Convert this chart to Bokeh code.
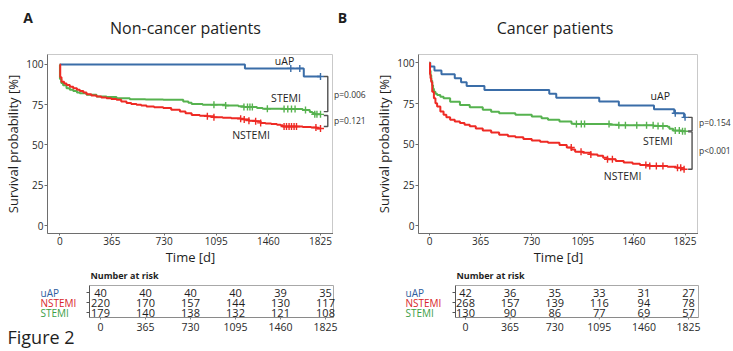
import numpy as np
from bokeh.plotting import figure
from bokeh.layouts import row, column
from bokeh.models import Range1d, FixedTicker, Label
from bokeh.core.properties import value
from bokeh.embed import file_html
from bokeh.resources import INLINE

FONT = "Open Sans"

# ---------------- data ----------------
risk_days = [0, 365, 730, 1095, 1460, 1825]
groups = ["uAP", "NSTEMI", "STEMI"]

# Panel A: non-cancer patients
a_uap_t = [0, 1296, 1708, 1825]
a_uap_s = [100, 97.5, 92.5, 92.5]
a_uap_c = [1617, 1680, 1825]

a_nst_t = [0, 3, 12, 30, 47, 70, 94, 120, 140, 165, 187, 220, 257, 290, 327, 360, 397, 430, 467, 500,
           537, 570, 607, 660, 724, 780, 841, 880, 923, 980, 1033, 1079, 1140, 1200, 1266, 1291, 1324,
           1371, 1406, 1440, 1480, 1520, 1546, 1560, 1700, 1760, 1800, 1825]
a_nst_s = [100, 92, 89.3, 88.2, 87.2, 86.2, 85.2, 84.2, 83.5, 82.5, 81.5, 80.7, 80.0, 79.5, 79.0, 78.5,
           78.0, 77.0, 76.0, 75.5, 75.0, 74.5, 73.9, 73.4, 72.9, 71.8, 70.8, 69.7, 68.6, 68.2, 67.8, 67.2,
           66.9, 66.6, 66.3, 65.8, 65.1, 64.7, 63.7, 63.4, 63.0, 62.6, 62.2, 61.5, 61.2, 60.8, 60.2, 60.2]
a_nst_c = [1033, 1079, 1266, 1291, 1324, 1371, 1406, 1570, 1587, 1605, 1622, 1640, 1657, 1793, 1825]

a_st_t = [0, 1, 10, 23, 47, 70, 94, 120, 140, 187, 257, 327, 397, 490, 600, 724, 864, 900, 923, 1000,
          1161, 1250, 1289, 1380, 1420, 1570, 1700, 1750, 1768, 1785, 1825]
a_st_s = [100, 91, 88.5, 87, 85.2, 84.2, 83.5, 82.6, 82.1, 81.1, 80.0, 79.7, 79.0, 78.4, 78.2, 78.0,
          77.0, 76.2, 75.4, 75.0, 74.5, 74.0, 73.5, 73.0, 72.5, 72.3, 71.7, 70.5, 69.8, 69.0, 69.0]
a_st_c = [1079, 1161, 1289, 1314, 1331, 1348, 1453, 1570, 1596, 1622, 1647, 1720, 1785, 1800, 1825]

a_risk_uap = [40, 40, 40, 40, 39, 35]
a_risk_nst = [220, 170, 157, 144, 130, 117]
a_risk_st = [179, 140, 138, 132, 121, 108]
a_pvals = ["p=0.006", "p=0.121"]

# Panel B: cancer patients
b_uap_t = [0, 5, 35, 85, 180, 225, 265, 392, 855, 905, 1212, 1352, 1603, 1748, 1818, 1825]
b_uap_s = [100, 97.6, 95.2, 92.9, 90.5, 88.1, 85.7, 83.3, 81.0, 78.6, 76.2, 73.8, 71.4, 69.0, 66.5, 66.5]
b_uap_c = [1755, 1825]

b_nst_t = [0, 3, 7, 12, 19, 31, 42, 54, 77, 100, 120, 147, 180, 217, 250, 287, 330, 380, 440, 497,
           560, 613, 670, 730, 790, 846, 928, 980, 1014, 1040, 1096, 1150, 1200, 1240, 1271, 1330, 1387,
           1450, 1503, 1573, 1700, 1760, 1800, 1825]
b_nst_s = [100, 93, 90.5, 88.2, 82.2, 78.2, 75.2, 73.1, 70.1, 68.1, 66.5, 65.0, 64.0, 63.0, 62.0, 61.0,
           59.7, 58.4, 57.2, 55.9, 55.0, 54.3, 53.3, 52.3, 51.6, 50.9, 49.5, 48.0, 46.8, 45.5, 44.8, 43.8,
           43.0, 41.8, 40.8, 39.8, 38.8, 38.0, 37.3, 36.7, 36.2, 35.7, 34.7, 34.7]
b_nst_c = [1012, 1082, 1152, 1271, 1306, 1545, 1573, 1620, 1667, 1771, 1794, 1818]

b_st_t = [0, 3, 7, 12, 19, 25, 31, 42, 54, 77, 100, 147, 217, 287, 380, 440, 497, 613, 730, 800,
          846, 928, 1014, 1040, 1290, 1352, 1600, 1700, 1713, 1740, 1800, 1825]
b_st_s = [100, 95, 92.3, 89, 86.2, 84, 82.2, 81, 80.2, 79.2, 78.2, 76.1, 74.1, 72.7, 71.1, 70, 69.1,
          68.1, 67.0, 66.0, 65.0, 64.0, 62.6, 62.4, 62.0, 61.6, 61.2, 60.8, 59.6, 58.4, 58.0, 58.0]
b_st_c = [1049, 1084, 1107, 1282, 1352, 1399, 1480, 1550, 1597, 1632, 1667, 1755, 1784, 1807, 1825]

b_risk_uap = [42, 36, 35, 33, 31, 27]
b_risk_nst = [268, 157, 139, 116, 94, 78]
b_risk_st = [130, 90, 86, 77, 69, 57]
b_pvals = ["p=0.154", "p<0.001"]

# ---------------- styles ----------------
LINE_COL = {"uAP": "#3a6da8", "NSTEMI": "#ee2a24", "STEMI": "#56b24f"}
ROW_COL = {"uAP": "#2e5e9e", "NSTEMI": "#d8262b", "STEMI": "#3c9e45"}
TXT = "#1e1e1e"


def step_at(t, s, c):
    idx = np.searchsorted(np.asarray(t), np.asarray(c), side="right") - 1
    return list(np.asarray(s)[idx])


class Geo:
    """maps page pixels to the data units of one figure's frame"""
    def __init__(self, fl, fr, ft, fb, xr, yr):
        self.fl, self.fr, self.ft, self.fb, self.xr, self.yr = fl, fr, ft, fb, xr, yr

    def x(self, px):
        return self.xr[0] + (px - self.fl) / (self.fr - self.fl) * (self.xr[1] - self.xr[0])

    def y(self, py):
        return self.yr[1] - (py - self.ft) / (self.fb - self.ft) * (self.yr[1] - self.yr[0])

    def dx(self, dpx):
        return dpx / (self.fr - self.fl) * (self.xr[1] - self.xr[0])

    def dy(self, dpy):
        return dpy / (self.fb - self.ft) * (self.yr[1] - self.yr[0])


def add_label(p, g, px, py, text, size, color=TXT, align="center", bold=False, y_data=None):
    p.add_layout(Label(x=g.x(px), y=g.y(py) if y_data is None else y_data, text=text,
                       text_font=FONT, text_font_size=size, text_color=color, text_align=align,
                       text_baseline="middle", text_font_style="bold" if bold else "normal"))


def base_fig(width, height, g, bl, br, bt, bb, axes=True):
    kw = {}
    if not axes:
        kw = dict(x_axis_type=None, y_axis_type=None)
    p = figure(width=width, height=height, x_range=Range1d(*g.xr), y_range=Range1d(*g.yr),
               output_backend="svg", toolbar_location=None, title=None,
               min_border_left=bl, min_border_right=br, min_border_top=bt, min_border_bottom=bb, **kw)
    p.xgrid.visible = False
    p.ygrid.visible = False
    p.outline_line_color = None
    p.background_fill_color = "white"
    p.border_fill_color = "white"
    return p


def km_fig(width, bl, geo, curves, brackets, bx, curve_lbls):
    p = base_fig(width, 214, geo, bl, 0, 0, 33)
    p.outline_line_color = "#c9c9c9"
    for ax in (p.xaxis[0], p.yaxis[0]):
        ax.axis_line_color = "#6e6e6e"
        ax.major_tick_line_color = "#6e6e6e"
        ax.minor_tick_line_color = None
        ax.major_tick_in = 0
        ax.major_label_text_font = FONT
        ax.major_label_text_color = "#2a2a2a"
        ax.major_label_text_font_size = "10px"
        ax.major_label_standoff = 1
        ax.axis_label_text_font = FONT
        ax.axis_label_text_font_style = "normal"
        ax.axis_label_text_color = TXT
        ax.axis_label_text_font_size = "13px"
    p.xaxis.ticker = FixedTicker(ticks=risk_days)
    p.yaxis.ticker = FixedTicker(ticks=[0, 25, 50, 75, 100])
    p.xaxis.major_tick_out = 2
    p.yaxis.major_tick_out = 3
    p.xaxis.axis_label = "Time [d]"
    p.yaxis.axis_label = "Survival probability [%]"
    p.xaxis.axis_label_standoff = 0
    p.yaxis.axis_label_standoff = 1

    for name, t, s, c in curves:
        col = LINE_COL[name]
        p.step(t, s, mode="after", line_color=col, line_width=2)
        p.scatter(c, step_at(t, s, c), marker="cross", size=7, line_color=col, line_width=1.4)

    tick = geo.dx(4)
    for (y1, y2) in brackets:
        p.line([bx - tick, bx, bx, bx - tick], [y1, y1, y2, y2], line_color="#505050", line_width=1.4)
    for txt, (px, py) in zip(groups, curve_lbls):
        add_label(p, geo, px, py, txt, "10.5px")
    return p


def pval_fig(width, geo, pv, pv_pos):
    p = base_fig(width, 214, geo, 0, 0, 0, 33, axes=False)
    for txt, (px, py) in zip(pv, pv_pos):
        add_label(p, geo, px, py, txt, "8.5px", color="#333333", align="left")
    return p


def risk_fig(width, geo, box, counts, row_px, nar_px, extra=None):
    # box: page pixels (left, right, top, bottom) of the number-at-risk table
    p = base_fig(width, 83, geo, 0, 0, 0, 0, axes=False)
    bl, br = geo.x(box[0]), geo.x(box[1])
    bt, bb = geo.y(box[2]), geo.y(box[3])
    p.line([bl, br, br], [bt, bt, bb], line_color="#a8a8a8", line_width=1)
    p.line([bl, br], [bb, bb], line_color="#8a8a8a", line_width=1)
    p.line([bl, bl], [bb, bt], line_color="#555555", line_width=1)
    rows_y = [geo.y(292), geo.y(302), geo.y(312)]
    p.segment(x0=[bl - geo.dx(3)] * 3, y0=rows_y, x1=[bl] * 3, y1=rows_y, line_color="#555555", line_width=1)
    p.segment(x0=risk_days, y0=[bb] * 6, x1=risk_days, y1=[bb - geo.dy(2)] * 6, line_color="#8a8a8a", line_width=1)
    p.text(x=risk_days, y=[geo.y(326.5)] * len(risk_days), text=[str(d) for d in risk_days],
           text_font=value(FONT), text_font_size="10.5px", text_color="#2a2a2a",
           text_align="center", text_baseline="middle")
    for name, yv, cnt in zip(groups, rows_y, counts):
        p.text(x=risk_days, y=[yv] * len(risk_days), text=[str(v) for v in cnt],
               text_font=value(FONT), text_font_size="11px", text_color=TXT,
               text_align="center", text_baseline="middle")
        add_label(p, geo, row_px, 0, name, "10px", color=ROW_COL[name], align="left", y_data=yv)
    add_label(p, geo, nar_px[0], nar_px[1], "Number at risk", "9px", align="left", bold=True)
    if extra:
        for txt, px, py, size in extra:
            add_label(p, geo, px, py, txt, size, align="left")
    return p


# ---------------- geometry (page pixels -> data) ----------------
gH = Geo(0, 733, 0, 54, (0, 733), (-54, 0))
gA = Geo(47, 333, 54, 235, (-86.1, 1916.0), (-4.91, 106.13))
gB = Geo(412, 698, 54, 235, (-79.0, 1921.0), (-4.67, 105.03))
pA = Geo(333, 372, 54, 235, (0, 39), gA.yr)
pB = Geo(698, 733, 54, 235, (0, 35), gB.yr)
rA = Geo(0, 372, 268, 351, (-811.1, 2206.2), (-3.4, 4.9))
rB = Geo(372, 733, 268, 351, (-761.1, 2193.3), (-3.4, 4.9))

header = base_fig(733, 54, gH, 0, 0, 0, 0, axes=False)
add_label(header, gH, 27.5, 17, "A", "14px", bold=True)
add_label(header, gH, 342, 17, "B", "14px", bold=True)
add_label(header, gH, 185, 27, "Non-cancer patients", "16px")
add_label(header, gH, 554.5, 27, "Cancer patients", "16px")

kmA = km_fig(333, 47, gA,
             [("uAP", a_uap_t, a_uap_s, a_uap_c), ("STEMI", a_st_t, a_st_s, a_st_c),
              ("NSTEMI", a_nst_t, a_nst_s, a_nst_c)],
             [(a_uap_s[-1], 70.7), (68.3, 61.5)], 1876,
             [(284, 60.5), (250.5, 135), (285.5, 98.3)])
pvA = pval_fig(39, pA, a_pvals, [(333.5, 94), (333.5, 121)])

kmB = km_fig(326, 40, gB,
             [("uAP", b_uap_t, b_uap_s, b_uap_c), ("STEMI", b_st_t, b_st_s, b_st_c),
              ("NSTEMI", b_nst_t, b_nst_s, b_nst_c)],
             [(b_uap_s[-1], 58.2), (57.6, b_nst_s[-1])], 1875,
             [(659, 95.7), (620.5, 176.7), (656.5, 141)])
pvB = pval_fig(35, pB, b_pvals, [(698.5, 122.5), (698.5, 151)])

riskA = risk_fig(372, rA, (89, 333, 285, 317), [a_risk_uap, a_risk_nst, a_risk_st], 40, (90, 275),
                 extra=[("Figure 2", 7, 336, "18px")])
riskB = risk_fig(361, rB, (455, 698, 285, 317), [b_risk_uap, b_risk_nst, b_risk_st], 405, (456, 275))

layout = column(header,
                row(column(row(kmA, pvA), riskA), column(row(kmB, pvB), riskB)))

open("out.html", "w").write(file_html(layout, INLINE))
